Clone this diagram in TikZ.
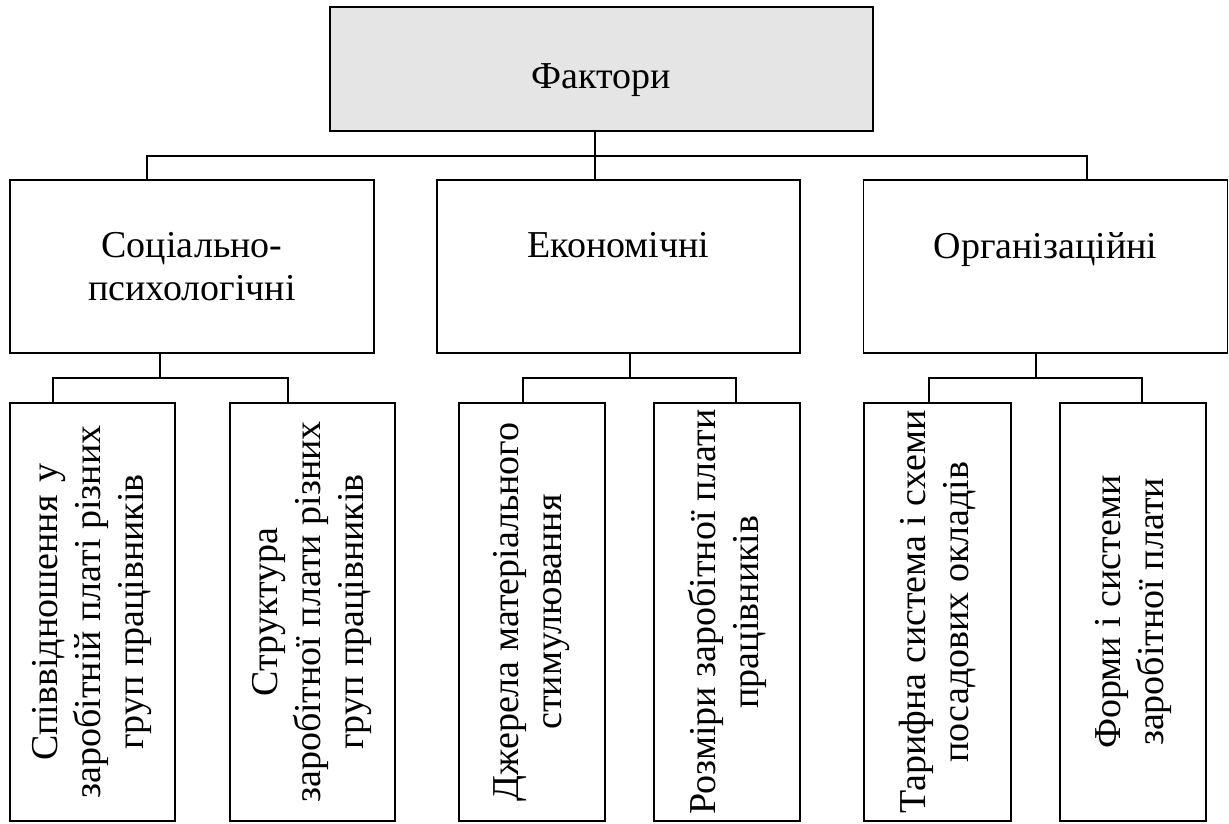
\documentclass[tikz,border=0pt]{standalone}
\usepackage{fontspec}
\setmainfont{Liberation Serif}
\tikzset{
	box/.style={draw, line width=1.3pt, align=center, inner sep=0pt},
	leaf/.style={box, minimum width=#1, minimum height=418pt},
	link/.style={line width=1.1pt},
}
\begin{document}
\begin{tikzpicture}[x=1pt, y=-1pt, font=\fontsize{38}{43}\selectfont]
	\useasboundingbox (0,0) rectangle (1229,824); % Keeps the page margins
	
	\node[box, fill=black!10, minimum width=543pt, minimum height=124pt] (Top) at (601.5,69) {\raisebox{-20pt}[0pt][0pt]{Фактори}};
	
	\node[box, minimum width=364pt, minimum height=173pt] (Soc) at (192,266.5) {Соціально-\\психологічні};
	\node[box, minimum width=363pt, minimum height=173pt] (Econ) at (618.5,266.5) {Економічні\\\mbox{}};
	\node[box, minimum width=364pt, minimum height=173pt] (Org) at (1045.5,266.5) {Організаційні\\\mbox{}};
	
	\foreach \name/\cx/\w/\txt in {% One box for each of the lower factors
		SocOne/92.5/165/{Співвідношення\hspace{13pt}у\\заробітній платі різних\\груп працівників},
		SocTwo/312.5/165/{Структура\\заробітної плати різних\\груп працівників},
		EconOne/532/146/{Джерела матеріального\\стимулювання},
		EconTwo/727/146/{Розміри заробітної плати\\працівників},
		OrgOne/937.5/147/{Тарифна система і схеми\\посадових окладів},
		OrgTwo/1133/146/{Форми і системи\\заробітної плати}}{%
		\node[leaf=\w pt] (\name) at (\cx,612) {};
		\node[rotate=90, align=center] (\name Txt) at (\name) {\txt}; % Text reads upwards
	}
	
	\coordinate (TopJoint) at (595,156);
	\coordinate (BusLeft) at (147,156);
	\coordinate (BusRight) at (1087,156);
	\draw[link] (Top.south -| TopJoint) -- (Econ.north -| TopJoint);
	\draw[link] (Soc.north -| BusLeft) -- (BusLeft) -- (BusRight) -- (Org.north -| BusRight);
	
	\foreach \parent/\jx/\lname/\rname/\lx/\rx in {%
		Soc/160/SocOne/SocTwo/53/288,
		Econ/630/EconOne/EconTwo/523/736,
		Org/1036/OrgOne/OrgTwo/929/1142}{%
		\coordinate (\parent Joint) at (\jx,378);
		\coordinate (\parent L) at (\lx,378);
		\coordinate (\parent R) at (\rx,378);
		\draw[link] (\parent.south -| \parent Joint) -- (\parent Joint);
		\draw[link] (\lname.north -| \parent L) -- (\parent L) -- (\parent R) -- (\rname.north -| \parent R);
	}
\end{tikzpicture}
\end{document}
